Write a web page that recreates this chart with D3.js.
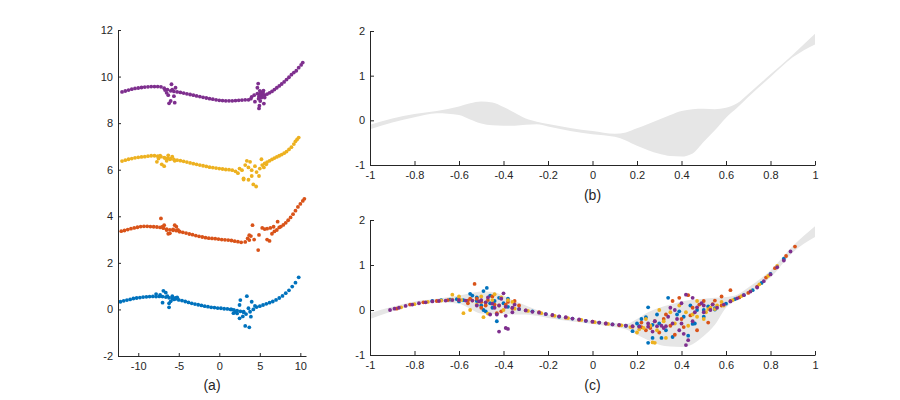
<!DOCTYPE html>
<html>
<head>
<meta charset="utf-8">
<script src="https://cdn.jsdelivr.net/npm/d3@7"></script>
<style>
  body { margin: 0; background: #fff; }
  svg { font-family: "Liberation Sans", Arial, sans-serif; }
</style>
</head>
<body>
<svg id="chart" width="900" height="400"></svg>
<script>
// ---- data ----
const colors = ["#0072BD", "#D95319", "#EDB120", "#7E2F8E"];

// panel (a): four noisy curves, offset by 0 / 3 / 6 / 9
const aBlue = [
  [-12.2,0.33],[-11.8,0.37],[-11.4,0.40],[-11.0,0.43],[-10.6,0.47],[-10.2,0.49],[-9.8,0.51],[-9.4,0.53],[-9.0,0.54],[-8.6,0.55],
  [-8.2,0.56],[-7.8,0.55],[-7.4,0.56],[-7.0,0.55],[-6.6,0.53],[-6.2,0.50],[-5.8,0.47],[-5.4,0.45],[-5.0,0.41],[-4.6,0.38],
  [-4.2,0.34],[-3.8,0.30],[-3.4,0.26],[-3.0,0.23],[-2.6,0.20],[-2.2,0.17],[-1.8,0.14],[-1.4,0.12],[-1.0,0.09],[-0.6,0.08],
  [-0.2,0.06],[0.2,0.05],[0.6,0.03],[1.0,0.02],[1.4,0.0],[1.8,-0.02],[2.2,-0.05],[2.6,-0.08],[3.0,-0.12],
  [4.6,0.10],[5.0,0.14],[5.4,0.19],[5.8,0.24],[6.2,0.29],[6.6,0.34],[7.0,0.41],[7.4,0.49],[7.8,0.58],[8.2,0.70],
  [8.6,0.82],[9.0,0.98],[9.4,1.15],[9.8,1.38],
  [-7.8,0.66],[-7.3,0.62],[-6.9,0.80],[-6.6,0.72],[-7.0,0.29],[-6.4,0.57],[-6.2,0.26],[-6.2,0.09],[-5.8,0.57],[-5.6,0.43],
  [-5.4,0.50],[-6.0,0.35],[-5.2,0.52],[2.6,0.40],[2.5,0.19],[2.2,-0.17],[2.5,-0.38],[3.2,-0.71],[3.7,-0.77],[3.6,0.05],
  [3.9,-0.31],[3.4,0.57],[4.0,0.33],[4.4,0.15],[3.0,-0.10],[1.75,-0.16],[1.5,0.0],[2.9,-0.3],[3.3,-0.2],[4.2,0.0],
  [3.8,-0.1],[2.0,-0.1]
];
const aOrange = [
  [-12.1,3.36],[-11.7,3.39],[-11.3,3.43],[-10.9,3.47],[-10.5,3.50],[-10.1,3.53],[-9.7,3.56],[-9.3,3.57],[-8.9,3.57],[-8.5,3.56],
  [-8.1,3.55],[-7.7,3.54],[-7.3,3.52],[-6.9,3.49],[-6.5,3.45],[-6.1,3.42],[-5.7,3.40],[-5.3,3.38],[-4.9,3.35],[-4.5,3.31],
  [-4.1,3.28],[-3.7,3.24],[-3.3,3.21],[-2.9,3.17],[-2.5,3.14],[-2.1,3.11],[-1.7,3.08],[-1.3,3.06],[-0.9,3.05],[-0.5,3.04],
  [-0.1,3.02],[0.3,3.0],[0.7,2.99],[1.1,2.98],[1.5,2.96],[1.9,2.93],[2.3,2.91],[2.7,2.88],
  [7.6,3.56],[7.9,3.63],[8.2,3.72],[8.5,3.83],[8.8,3.95],[9.1,4.09],[9.4,4.24],[9.7,4.40],[10.0,4.53],[10.3,4.66],[10.5,4.75],
  [-7.2,3.91],[-7.0,3.55],[-6.8,3.62],[-6.5,3.41],[-6.1,3.27],[-5.3,3.55],[-5.5,3.62],[-5.1,3.41],[-4.9,3.34],[-5.7,3.44],
  [-6.3,3.25],[3.2,2.9],[3.5,3.05],[3.7,2.98],[3.9,3.15],[4.1,3.62],[3.7,3.19],[4.8,2.55],[4.9,3.2],[5.3,3.5],
  [5.9,3.0],[6.2,2.94],[6.3,3.5],[6.7,3.55],[5.9,3.47],[7.2,3.77],[7.4,3.52],[7.1,3.41],[6.8,3.35],[6.5,3.25],
  [4.3,3.0],[5.6,3.45]
];
const aYellow = [
  [-12.0,6.37],[-11.6,6.41],[-11.2,6.45],[-10.8,6.48],[-10.4,6.51],[-10.0,6.53],[-9.6,6.55],[-9.2,6.56],[-8.8,6.58],[-8.4,6.6],
  [-8.0,6.6],[-7.6,6.58],[-7.2,6.56],[-6.8,6.52],[-6.4,6.49],[-6.0,6.47],[-5.6,6.44],[-5.2,6.41],[-4.8,6.39],[-4.4,6.36],
  [-4.0,6.33],[-3.6,6.29],[-3.2,6.26],[-2.8,6.23],[-2.4,6.2],[-2.0,6.17],[-1.6,6.14],[-1.2,6.11],[-0.8,6.09],[-0.4,6.07],
  [0.0,6.05],[0.4,6.03],[0.8,6.01],[1.2,6.0],[1.6,5.98],[2.0,5.93],
  [5.3,6.2],[5.6,6.27],[5.9,6.33],[6.2,6.38],[6.5,6.44],[6.8,6.5],[7.1,6.55],[7.4,6.6],[7.7,6.65],[8.0,6.71],
  [8.3,6.78],[8.6,6.87],[8.9,6.97],[9.2,7.1],[9.4,7.22],[9.6,7.3],[9.8,7.38],
  [-7.7,6.34],[-7.5,6.48],[-7.1,6.23],[-6.8,6.15],[-6.7,6.5],[-6.5,6.38],[-6.1,6.45],[-5.8,6.56],[-5.5,6.38],[-7.3,6.6],
  [-6.3,6.62],[2.5,6.05],[2.8,5.98],[3.0,5.63],[3.4,6.38],[3.8,6.34],[3.6,6.1],[4.0,5.98],[4.0,5.73],[4.9,5.73],
  [4.6,5.9],[5.2,6.45],[5.5,6.1],[5.8,6.23],[3.6,5.57],[4.2,5.37],[4.55,5.28],[3.0,5.58],[2.3,5.85],[3.2,6.2],
  [4.4,6.15],[5.0,6.05]
];
const aPurple = [
  [-12.0,9.34],[-11.6,9.38],[-11.2,9.42],[-10.8,9.46],[-10.4,9.49],[-10.0,9.51],[-9.6,9.53],[-9.2,9.55],[-8.8,9.56],[-8.4,9.57],
  [-8.0,9.57],[-7.6,9.57],[-7.2,9.56],[-6.8,9.5],[-6.4,9.44],[-6.0,9.39],[-5.6,9.36],[-5.2,9.34],[-4.8,9.32],[-4.4,9.29],
  [-4.0,9.26],[-3.6,9.23],[-3.2,9.2],[-2.8,9.17],[-2.4,9.14],[-2.0,9.11],[-1.6,9.08],[-1.2,9.05],[-0.8,9.03],[-0.4,9.0],
  [0.0,8.98],[0.4,8.97],[0.8,8.96],[1.2,8.96],[1.6,8.96],[2.0,8.97],[2.4,8.98],[2.8,8.99],[3.2,9.0],[3.6,9.0],
  [5.6,9.2],[5.9,9.25],[6.2,9.3],[6.5,9.36],[6.8,9.44],[7.1,9.52],[7.4,9.6],[7.7,9.68],[8.0,9.77],[8.3,9.87],
  [8.6,9.97],[8.9,10.08],[9.2,10.17],[9.5,10.25],[9.8,10.38],[10.1,10.5],[10.3,10.6],
  [-6.7,9.42],[-6.3,9.2],[-6.2,8.85],[-5.9,9.67],[-5.5,8.88],[-5.6,9.16],[-5.4,9.52],[-5.8,9.44],[-6.0,8.95],[-6.5,9.3],
  [4.0,9.13],[4.4,8.92],[4.8,9.7],[5.0,9.39],[4.9,8.63],[5.3,9.2],[5.5,8.84],[4.7,9.27],[5.2,9.1],[4.7,9.52],
  [4.9,9.15],[5.0,9.22],[5.1,9.28],[5.2,9.32],[5.4,9.3],[4.85,9.05],[5.05,8.95],[4.95,8.75],[3.9,9.05],[4.3,9.2],
  [5.6,9.1],[5.45,9.4]
];

// panels (b) and (c): grey envelopes
const bandX      = [-1,-0.9,-0.8,-0.7,-0.6,-0.55,-0.5,-0.45,-0.4,-0.35,-0.3,-0.25,-0.2,-0.1,0,0.1,0.15,0.2,0.25,0.3,0.35,0.4,0.45,0.5,0.55,0.6,0.65,0.7,0.8,0.9,1.0];
const bandBUpper = [-0.1,0.04,0.14,0.21,0.31,0.38,0.42,0.40,0.30,0.17,0.04,-0.03,-0.08,-0.17,-0.24,-0.30,-0.27,-0.18,-0.08,0.02,0.12,0.21,0.25,0.26,0.25,0.28,0.38,0.59,1.03,1.47,1.94];
const bandBLower = [-0.2,-0.05,0.07,0.16,0.12,0.02,-0.07,-0.11,-0.12,-0.12,-0.10,-0.09,-0.14,-0.24,-0.31,-0.37,-0.45,-0.57,-0.67,-0.75,-0.80,-0.81,-0.74,-0.48,-0.22,0.06,0.28,0.52,0.97,1.41,1.70];
const bandCUpper = [-0.07,0.07,0.19,0.25,0.32,0.37,0.41,0.40,0.32,0.20,0.10,0.0,-0.10,-0.18,-0.24,-0.29,-0.31,-0.20,-0.05,0.05,0.12,0.19,0.23,0.25,0.27,0.29,0.34,0.50,0.88,1.42,1.86];
const bandCLower = [-0.2,-0.03,0.11,0.17,0.14,0.03,-0.08,-0.09,-0.09,-0.10,-0.10,-0.13,-0.18,-0.25,-0.31,-0.38,-0.43,-0.55,-0.67,-0.77,-0.81,-0.82,-0.76,-0.58,-0.33,0.05,0.22,0.38,0.72,1.28,1.62];

// panel (c): four scattered samples
const cBlue = [
  [-0.72,0.2],[-0.68,0.22],[-0.64,0.23],[-0.61,0.24],[-0.58,0.22],[-0.52,0.2],[-0.46,0.15],[-0.38,0.07],[-0.33,0.02],[-0.27,-0.03],
  [-0.21,-0.09],[-0.15,-0.15],[-0.09,-0.19],[-0.03,-0.24],[0.03,-0.28],[0.09,-0.32],[0.15,-0.35],[0.21,-0.36],[0.27,-0.33],[0.5,0.0],
  [0.55,0.04],[0.6,0.14],[0.64,0.24],[0.68,0.33],[0.72,0.44],[0.76,0.6],[0.8,0.8],[0.86,1.14],
  [-0.55,0.36],[-0.475,0.49],[-0.49,0.42],[-0.54,0.32],[-0.48,-0.03],[-0.43,-0.25],[-0.42,0.27],[-0.38,0.25],[-0.44,0.2],[-0.49,0.0],
  [-0.6,0.19],[-0.5,0.1],[-0.45,0.05],[0.25,0.06],[0.34,0.27],[0.25,-0.73],[0.27,-0.62],[0.24,-0.16],[0.18,-0.47],[0.31,-0.62],
  [0.36,-0.6],[0.43,-0.57],[0.39,-0.03],[0.46,-0.3],[0.47,0.0],[0.55,0.01],[0.45,-0.31],[0.3,-0.3],[0.2,-0.3],[0.41,-0.15],
  [0.22,-0.2],[0.33,-0.45],[0.38,-0.1],[0.5,-0.15],[0.52,0.08],[0.29,-0.1],[0.44,0.1],[-0.52,0.28],[-0.46,0.32],[-0.4,0.15]
];
const cOrange = [
  [-0.88,0.03],[-0.82,0.12],[-0.76,0.17],[-0.7,0.2],[-0.65,0.22],[-0.6,0.23],[-0.56,0.21],[-0.5,0.18],[-0.44,0.12],[-0.36,0.04],
  [-0.3,-0.01],[-0.24,-0.05],[-0.18,-0.12],[-0.12,-0.17],[-0.06,-0.22],[0.0,-0.26],[0.06,-0.3],[0.12,-0.34],[0.18,-0.37],[0.22,-0.38],
  [0.58,0.1],[0.62,0.2],[0.66,0.28],[0.7,0.38],[0.74,0.52],[0.78,0.72],[0.82,0.93],[0.87,1.2],[0.91,1.41],
  [-0.53,0.58],[-0.43,-0.07],[-0.41,-0.03],[-0.5,0.05],[-0.35,0.2],[-0.47,0.22],[-0.56,0.15],[-0.45,0.3],[-0.39,0.12],[-0.52,0.25],
  [-0.33,0.1],[0.43,0.33],[0.39,0.27],[0.55,0.21],[0.5,0.2],[0.62,0.44],[0.26,-0.4],[0.3,-0.5],[0.35,-0.35],[0.4,-0.2],
  [0.47,-0.45],[0.52,-0.28],[0.33,-0.1],[0.22,-0.28],[0.58,0.3],[0.45,0.05],[0.28,-0.25],[0.37,-0.55],
  [0.36,0.2],[0.44,-0.12],[0.48,0.12],[0.32,-0.2],[0.24,-0.45],[0.41,-0.38],[0.54,0.13],[-0.48,0.1],[-0.38,0.18],[-0.55,0.25]
];
const cYellow = [
  [-0.86,0.06],[-0.8,0.13],[-0.74,0.18],[-0.68,0.21],[-0.63,0.23],[-0.59,0.22],[-0.54,0.21],[-0.48,0.17],[-0.42,0.1],[-0.35,0.03],
  [-0.29,-0.02],[-0.23,-0.07],[-0.17,-0.13],[-0.11,-0.18],[-0.05,-0.22],[0.01,-0.27],[0.07,-0.31],[0.13,-0.34],[0.17,-0.38],[0.23,-0.4],
  [0.47,-0.15],[0.51,-0.05],[0.55,0.02],[0.59,0.1],[0.63,0.22],[0.67,0.31],[0.71,0.42],[0.75,0.57],[0.79,0.76],[0.83,0.98],
  [-0.58,-0.07],[-0.49,-0.16],[-0.55,0.0],[-0.63,0.34],[-0.41,0.28],[-0.36,0.18],[-0.45,0.22],[-0.52,0.12],[-0.47,-0.08],[-0.4,0.0],
  [-0.6,0.3],[0.28,-0.73],[0.27,-0.72],[0.33,-0.62],[0.2,-0.5],[0.24,-0.2],[0.3,0.0],[0.37,-0.3],[0.42,-0.05],[0.5,-0.2],
  [0.53,0.05],[0.56,0.1],[0.45,-0.1],[0.26,-0.35],[0.32,-0.25],[0.21,-0.43],
  [0.35,-0.05],[0.39,0.1],[0.47,0.2],[0.52,0.02],[0.58,0.18],[0.29,-0.45],[0.43,-0.35],[-0.5,0.3],[-0.44,0.35],[-0.38,0.22]
];
const cPurple = [
  [-0.91,0.0],[-0.89,0.03],[-0.87,0.05],[-0.84,0.09],[-0.81,0.12],[-0.78,0.15],[-0.75,0.17],[-0.72,0.19],[-0.69,0.2],[-0.66,0.21],
  [-0.63,0.22],[-0.6,0.22],[-0.57,0.21],[-0.54,0.21],[-0.51,0.19],[-0.48,0.17],[-0.45,0.14],[-0.42,0.1],[-0.39,0.07],[-0.36,0.05],
  [-0.33,0.02],[-0.3,-0.01],[-0.27,-0.04],[-0.24,-0.06],[-0.21,-0.09],[-0.18,-0.11],[-0.15,-0.14],[-0.12,-0.16],[-0.09,-0.19],[-0.06,-0.21],
  [-0.03,-0.24],[0.0,-0.26],[0.03,-0.28],[0.06,-0.3],[0.09,-0.32],[0.12,-0.33],[0.15,-0.35],[0.18,-0.36],[0.21,-0.37],[0.25,-0.37],
  [0.29,-0.36],[0.33,-0.36],[0.5,-0.05],[0.53,0.0],[0.56,0.05],[0.59,0.12],[0.62,0.19],[0.65,0.26],[0.68,0.33],[0.71,0.41],
  [0.74,0.5],[0.77,0.64],[0.8,0.79],[0.83,0.95],[0.86,1.1],[0.89,1.3],
  [-0.4,0.37],[-0.42,-0.48],[-0.39,-0.4],[-0.38,-0.42],[-0.39,-0.13],[-0.44,0.05],[-0.5,0.22],[-0.47,0.28],[-0.43,-0.1],[-0.36,-0.05],
  [-0.52,0.1],[0.42,0.34],[0.45,0.27],[0.4,0.15],[0.37,0.0],[0.34,-0.15],[0.36,-0.3],[0.41,-0.53],[0.42,-0.78],[0.43,-0.67],
  [0.47,0.06],[0.5,0.1],[0.38,-0.2],[0.31,-0.35],[0.28,-0.25],[0.45,-0.25],[0.39,-0.45],[0.25,-0.3],
  [0.32,-0.4],[0.35,0.05],[0.46,-0.05],[0.49,0.15],[0.54,0.12],[0.27,-0.48],[0.4,-0.3],[-0.46,-0.1],[-0.41,0.25],[-0.35,0.12]
];

const aTicksX = [-10, -5, 0, 5, 10];
const aTicksY = [-2, 0, 2, 4, 6, 8, 10, 12];
const bcTicksX = [-1, -0.8, -0.6, -0.4, -0.2, 0, 0.2, 0.4, 0.6, 0.8, 1];
const bcTicksY = [-1, 0, 1, 2];

// ---- drawing ----
const svg = d3.select("svg#chart");
const axisColor = "#262626";
const fmt = (d) => String(+d.toFixed(1));

function styleAxis(g) {
  g.attr("font-family", null).attr("font-size", null);
  g.selectAll("path.domain").attr("stroke", axisColor).attr("stroke-width", 1);
  g.selectAll(".tick line").attr("stroke", axisColor).attr("stroke-width", 1);
  g.selectAll(".tick text").attr("fill", axisColor).style("font-size", "11px");
}

function drawAxes(xScale, yScale, xTicks, yTicks, tick, label, labelY) {
  const [x0, x1] = xScale.range();
  const [y0] = yScale.range();

  svg.append("g")
    .attr("transform", `translate(0,${y0})`)
    .call(d3.axisBottom(xScale).tickValues(xTicks).tickFormat(fmt)
      .tickSizeInner(-tick).tickSizeOuter(0).tickPadding(6))
    .call(styleAxis);

  svg.append("g")
    .attr("transform", `translate(${x0},0)`)
    .call(d3.axisLeft(yScale).tickValues(yTicks).tickFormat(fmt)
      .tickSizeInner(-tick).tickSizeOuter(0).tickPadding(5))
    .call(styleAxis);

  svg.append("text")
    .attr("x", (x0 + x1) / 2)
    .attr("y", labelY)
    .attr("text-anchor", "middle")
    .attr("dominant-baseline", "middle")
    .attr("fill", axisColor)
    .style("font-size", "14px")
    .text(label);
}

function drawDots(g, data, xScale, yScale, color) {
  g.selectAll(null)
    .data(data)
    .join("circle")
    .attr("cx", (d) => xScale(d[0]))
    .attr("cy", (d) => yScale(d[1]))
    .attr("r", 1.9)
    .attr("fill", color);
}

function drawBand(g, upper, lower, xScale, yScale) {
  const rows = bandX.map((x, i) => ({ x, hi: upper[i], lo: lower[i] }));
  const area = d3.area()
    .x((d) => xScale(d.x))
    .y0((d) => yScale(d.lo))
    .y1((d) => yScale(d.hi))
    .curve(d3.curveMonotoneX);
  g.append("path").datum(rows).attr("d", area).attr("fill", "#e6e6e6");
}

// panel (a)
const xA = d3.scaleLinear().domain([-12.5, 10.7]).range([118, 306]);
const yA = d3.scaleLinear().domain([-2, 12]).range([356, 30]);
const gA = svg.append("g");
[aBlue, aOrange, aYellow, aPurple].forEach((s, i) => drawDots(gA, s, xA, yA, colors[i]));
drawAxes(xA, yA, aTicksX, aTicksY, 3, "(a)", 386);

// panel (b)
const xB = d3.scaleLinear().domain([-1, 1]).range([370, 815]);
const yB = d3.scaleLinear().domain([-1, 2]).range([165, 31]);
const gB = svg.append("g");
drawBand(gB, bandBUpper, bandBLower, xB, yB);
drawAxes(xB, yB, bcTicksX, bcTicksY, 4, "(b)", 196);

// panel (c)
const xC = d3.scaleLinear().domain([-1, 1]).range([370, 815]);
const yC = d3.scaleLinear().domain([-1, 2]).range([355, 220]);
const gC = svg.append("g");
drawBand(gC, bandCUpper, bandCLower, xC, yC);
[cBlue, cOrange, cYellow, cPurple].forEach((s, i) => drawDots(gC, s, xC, yC, colors[i]));
drawAxes(xC, yC, bcTicksX, bcTicksY, 4, "(c)", 386);
</script>
</body>
</html>
